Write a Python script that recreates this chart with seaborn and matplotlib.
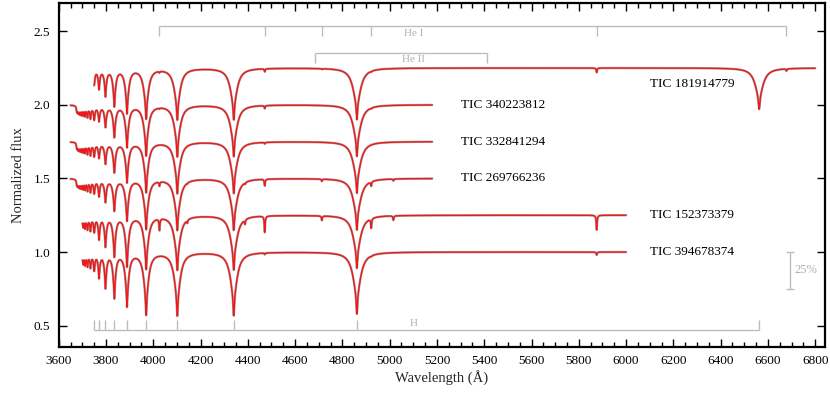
import numpy as np
import pandas as pd
import matplotlib
matplotlib.use("Agg")
import matplotlib.pyplot as plt
import seaborn as sns

# ---------------- data ----------------
stars = ["TIC 181914779", "TIC 340223812", "TIC 332841294",
         "TIC 269766236", "TIC 152373379", "TIC 394678374"]
offsets = [1.25, 1.00, 0.75, 0.50, 0.25, 0.00]
wl_start = [3750, 3650, 3650, 3650, 3700, 3700]
wl_end = [6800, 5180, 5180, 5180, 6000, 6000]

# Balmer series: Ha, Hb, Hg, Hd, He, H8 ... H20
balmer_wl = [6562.8, 4861.3, 4340.5, 4101.7, 3970.1, 3889.1, 3835.4, 3797.9,
             3770.6, 3750.2, 3734.4, 3721.9, 3712.0, 3703.9, 3697.2, 3691.6,
             3686.8, 3682.8, 3679.4, 3676.4]
balmer_core = [3.5, 3.0, 3.0, 2.8, 2.6, 2.3, 2.0, 1.8, 1.6, 1.5, 1.4, 1.3,
               1.2, 1.1, 1.0, 1.0, 1.0, 1.0, 1.0, 1.0]
balmer_wing = [21.0, 20.0, 18.0, 16.0, 13.0, 10.0, 8.0, 6.5, 5.5, 5.0, 4.5,
               4.0, 3.6, 3.3, 3.0, 2.8, 2.6, 2.5, 2.5, 2.5]
balmer_depth = {
    "TIC 181914779": [0.28, 0.35, 0.35, 0.35, 0.34, 0.30, 0.25, 0.18, 0.13,
                      0.10, 0.09, 0.08, 0.07, 0.06, 0.055, 0.05, 0.045, 0.04, 0.035, 0.03],
    "TIC 340223812": [0.00, 0.35, 0.35, 0.35, 0.34, 0.28, 0.21, 0.14, 0.10,
                      0.09, 0.08, 0.07, 0.06, 0.055, 0.05, 0.045, 0.04, 0.035, 0.03, 0.03],
    "TIC 332841294": [0.00, 0.35, 0.35, 0.35, 0.34, 0.27, 0.20, 0.14, 0.10,
                      0.09, 0.08, 0.07, 0.06, 0.055, 0.05, 0.045, 0.04, 0.035, 0.03, 0.03],
    "TIC 269766236": [0.00, 0.35, 0.35, 0.35, 0.34, 0.28, 0.21, 0.15, 0.11,
                      0.09, 0.08, 0.07, 0.06, 0.055, 0.05, 0.045, 0.04, 0.035, 0.03, 0.03],
    "TIC 152373379": [0.00, 0.36, 0.37, 0.37, 0.36, 0.34, 0.27, 0.20, 0.15,
                      0.10, 0.09, 0.08, 0.07, 0.06, 0.055, 0.05, 0.045, 0.04, 0.035, 0.03],
    "TIC 394678374": [0.00, 0.42, 0.43, 0.43, 0.42, 0.36, 0.30, 0.23, 0.16,
                      0.11, 0.09, 0.08, 0.07, 0.06, 0.055, 0.05, 0.045, 0.04, 0.035, 0.03],
}
core_frac = 0.35

# He I lines
hei_wl = [4026.2, 4143.8, 4387.9, 4471.5, 4713.1, 4921.9, 5015.7, 5875.6, 6678.2]
hei_depth = {
    "TIC 181914779": [0.01, 0.0, 0.0, 0.02, 0.005, 0.005, 0.0, 0.03, 0.015],
    "TIC 340223812": [0.005, 0.0, 0.0, 0.02, 0.0, 0.005, 0.0, 0.0, 0.0],
    "TIC 332841294": [0.0, 0.0, 0.0, 0.01, 0.0, 0.0, 0.0, 0.0, 0.0],
    "TIC 269766236": [0.03, 0.005, 0.01, 0.045, 0.015, 0.03, 0.012, 0.0, 0.0],
    "TIC 152373379": [0.08, 0.02, 0.03, 0.11, 0.03, 0.065, 0.03, 0.10, 0.0],
    "TIC 394678374": [0.0, 0.0, 0.0, 0.01, 0.0, 0.005, 0.0, 0.02, 0.0],
}
hei_core = 1.4
hei_wing = 3.0

# line identification marks
hei_marks = [4026.2, 4471.5, 4713.1, 4921.9, 5875.6, 6678.2]
heii_marks = [4685.7, 5411.5]
h_marks = [3750.2, 3770.6, 3797.9, 3835.4, 3889.1, 3970.1, 4101.7, 4340.5, 4861.3, 6562.8]

label_x = [6100, 5300, 5300, 5300, 6100, 6100]
label_y = [2.14, 2.00, 1.75, 1.50, 1.25, 1.00]


def line_profile(wl, center, depth, w_core, w_wing, frac=0.6):
    d = wl - center
    return depth * (frac / (1 + (d / w_core) ** 2) + (1 - frac) / (1 + (d / w_wing) ** 2))


rows = []
for name, off, a, b in zip(stars, offsets, wl_start, wl_end):
    wl = np.arange(a, b + 0.25, 0.5)
    flux = np.ones_like(wl)
    for c, dep, wc, ww in zip(balmer_wl, balmer_depth[name], balmer_core, balmer_wing):
        if dep > 0:
            flux -= line_profile(wl, c, dep, wc, ww, core_frac)
    for c, dep in zip(hei_wl, hei_depth[name]):
        if dep > 0:
            flux -= line_profile(wl, c, dep, hei_core, hei_wing)
    rows.append(pd.DataFrame({"wavelength": wl, "flux": flux + off, "star": name}))
df = pd.concat(rows, ignore_index=True)

# ---------------- style ----------------
sns.set_theme(style="ticks")
plt.rcParams["font.family"] = ["Liberation Serif", "DejaVu Serif"]

fig = plt.figure(figsize=(8.3, 3.93), dpi=100)
ax = fig.add_axes([0.0707, 0.1178, 0.9229, 0.874])

sns.lineplot(data=df, x="wavelength", y="flux", units="star", estimator=None,
             color="#a8a8a8", lw=1.7, sort=False, ax=ax, legend=False)
sns.lineplot(data=df, x="wavelength", y="flux", units="star", estimator=None,
             color="#f01818", lw=1.0, sort=False, ax=ax, legend=False)

for name, x, y in zip(stars, label_x, label_y):
    ax.text(x, y, name, fontsize=9.5, va="center", ha="left", color="black")

bc = "#bdbdbd"
tc = "#b0b0b0"
# He I bracket
ax.hlines(2.536, min(hei_marks), max(hei_marks), color=bc, lw=1.0)
ax.vlines(hei_marks, 2.468, 2.536, color=bc, lw=1.0)
ax.text(5100, 2.487, "He I", fontsize=8, color=tc, ha="center", va="center")
# He II bracket
ax.hlines(2.353, min(heii_marks), max(heii_marks), color=bc, lw=1.0)
ax.vlines(heii_marks, 2.285, 2.353, color=bc, lw=1.0)
ax.text(5100, 2.305, "He II", fontsize=8, color=tc, ha="center", va="center")
# H bracket
ax.hlines(0.471, min(h_marks), max(h_marks), color=bc, lw=1.0)
ax.vlines(h_marks, 0.471, 0.539, color=bc, lw=1.0)
ax.text(5100, 0.515, "H", fontsize=8, color=tc, ha="center", va="center")
# 25% scale bar
ax.errorbar([6694], [0.875], yerr=[0.125], color=bc, capsize=3, lw=1.0, capthick=1.0)
ax.text(6712, 0.875, "25%", fontsize=9, color=tc, ha="left", va="center")

ax.set_xlim(3600, 6840)
ax.set_ylim(0.357, 2.69)
ax.set_xticks(np.arange(3600, 6801, 200))
ax.set_xticks(np.arange(3600, 6801, 50), minor=True)
ax.set_yticks([0.5, 1.0, 1.5, 2.0, 2.5])
ax.set_yticklabels(["0.5", "1.0", "1.5", "2.0", "2.5"])
ax.tick_params(which="both", direction="in", top=True, right=True,
               labelsize=9.5, colors="black", width=1.0)
ax.tick_params(which="major", length=6, pad=6)
ax.tick_params(which="minor", length=3.5)
for s in ax.spines.values():
    s.set_linewidth(1.6)
    s.set_color("black")
ax.set_xlabel("Wavelength (Å)", fontsize=10.5, labelpad=2)
ax.set_ylabel("Normalized flux", fontsize=10.5, labelpad=6)

fig.savefig("out.png", dpi=100)
